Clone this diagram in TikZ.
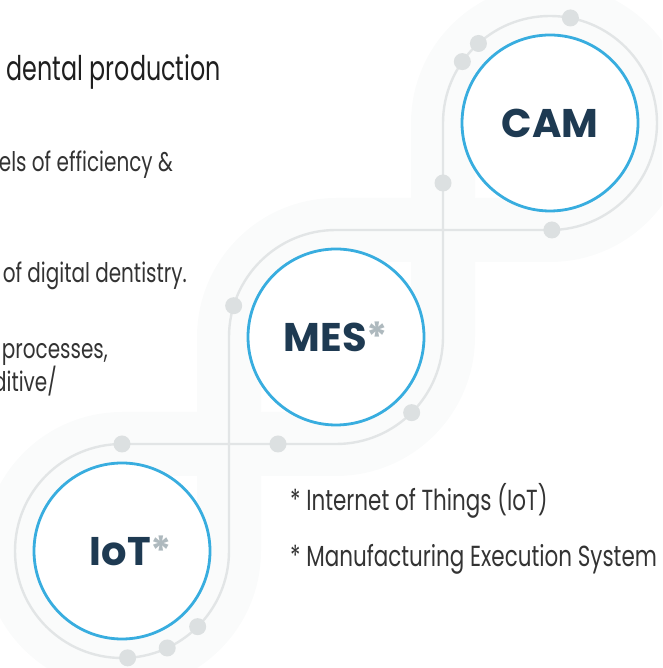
\documentclass[tikz,border=0pt]{standalone}
\usepackage{fontspec}
\usepackage{tikz}
\usetikzlibrary{positioning}

\newfontfamily\bodyfont{Poppins}[FakeStretch=0.74]
\newfontfamily\headfont{Poppins}[FakeStretch=0.7]
\newfontfamily\hubfont{Poppins}
\definecolor{hubblue}{HTML}{38ADDF}
\definecolor{hubnavy}{HTML}{1E3A52}
\definecolor{chaingrey}{HTML}{E2E5E6}
\definecolor{dotgrey}{HTML}{DCE0E1}
\definecolor{stargrey}{HTML}{AEB9BE}
\definecolor{textgrey}{HTML}{333333}
\definecolor{headgrey}{HTML}{1F1F1F}
\definecolor{bandgrey}{HTML}{FAFBFB}
\newcommand\hubstar{{\color{stargrey}*}}

\begin{document}
\begin{tikzpicture}[x=1pt,y=1pt,
		ring/.style={circle,minimum size=214pt,inner sep=0pt,outer sep=0pt},
		hub/.style={circle,draw=hubblue,line width=2.8pt,fill=white,minimum size=176pt,inner sep=0pt},
		hublabel/.style={font=\hubfont\bfseries\fontsize{40}{40}\selectfont,text=hubnavy,inner sep=0pt},
		band/.style={draw=bandgrey,line width=64pt},
		chain/.style={draw=chaingrey,line width=2.4pt},
		knot/.style={circle,fill=dotgrey,minimum size=17pt,inner sep=0pt},
		blurb/.style={font=\bodyfont\fontsize{27}{27}\selectfont,text=textgrey,inner sep=0pt,anchor=base east},
		note/.style={font=\bodyfont\fontsize{29}{29}\selectfont,text=textgrey,inner sep=0pt,anchor=base west}]

	\useasboundingbox (0,0) rectangle (662,668);
	\clip (0,0) rectangle (662,668);

	\node[ring] (iotring) at (122,117) {};
	\node[ring] (mesring) at (336,331) {};
	\node[ring] (camring) at (550,545) {};

	% faint band and the chain
	\foreach \s in {band,chain}
		\path[\s,line join=round] (iotring.north) -- (mesring.south)
			arc[start angle=-90,end angle=0,radius=107] -- (camring.west)
			arc[start angle=180,end angle=-90,radius=107] -- (mesring.north)
			arc[start angle=90,end angle=180,radius=107] -- (iotring.east)
			arc[start angle=0,end angle=-270,radius=107] -- cycle;

	\foreach \a [count=\i] in {90,-87,-65,-45}
		\node[knot] (iotknot\i) at (iotring.\a) {};
	\foreach \a [count=\i] in {163,-45}
		\node[knot] (mesknot\i) at (mesring.\a) {};
	\foreach \a [count=\i] in {145,132,79,-89}
		\node[knot] (camknot\i) at (camring.\a) {};
	\node[knot] (lowknot) at (278,224) {};
	\node[knot] (riseknot) at (443,485) {};

	\node[hub] (iot) at (iotring) {};
	\node[hub] (mes) at (mesring) {};
	\node[hub] (cam) at (camring) {};
	\node[hublabel] (iotlabel) at ([xshift=9pt]iot.center) {IoT\hubstar};
	\node[hublabel] (meslabel) at (mes.center) {MES\hubstar};
	\node[hublabel] (camlabel) at (cam.center) {CAM};

	\node[blurb,text=headgrey,font=\headfont\fontsize{34}{34}\selectfont] (headline) at (221,587) {e dental production};
	\node[blurb] (blurb1) at (173,496) {els of efficiency \&};
	\node[blurb] (blurb2) at (187,385) {of digital dentistry.};
	\node[blurb] (blurb3) at (108,309) {processes,};
	\node[blurb] (blurb4) at (57,276) {ditive/};

	\node[note] (iotnote) at (290,157) {* Internet of Things (IoT)};
	\node[note,below=56pt of iotnote.base west,anchor=base west] (mesnote) {* Manufacturing Execution System};
\end{tikzpicture}
\end{document}
